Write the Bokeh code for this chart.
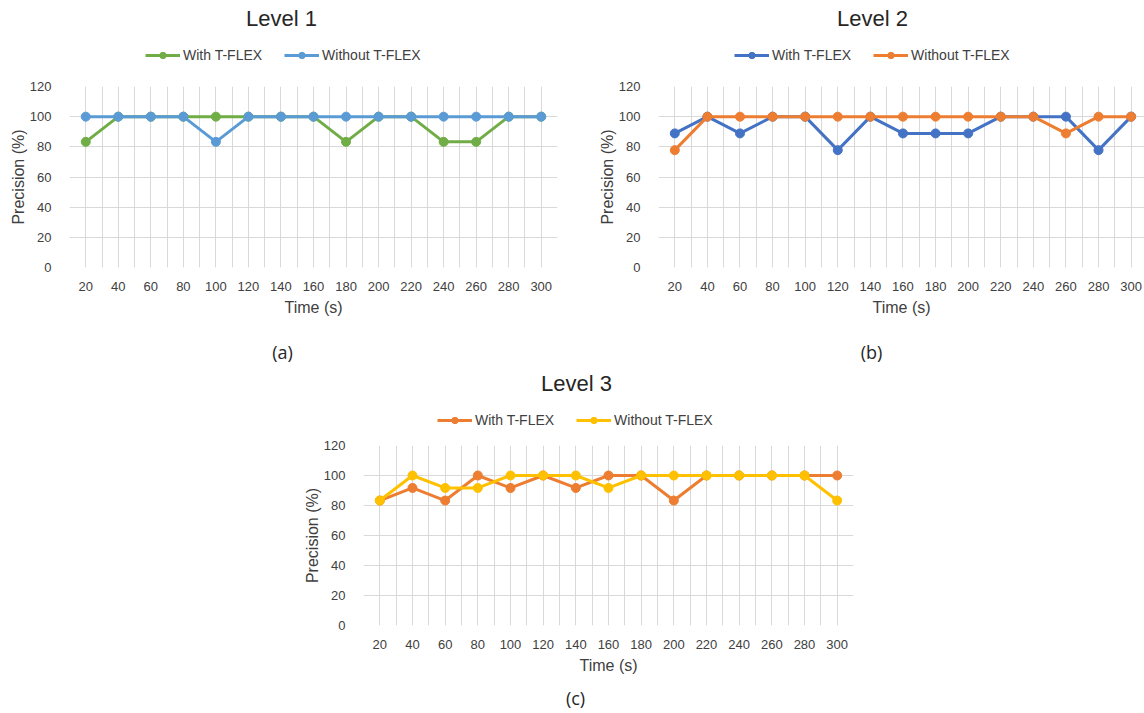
from bokeh.plotting import figure
from bokeh.models import Range1d, FixedTicker, Legend, LegendItem, Spacer, Label
from bokeh.layouts import row, column
from bokeh.embed import file_html
from bokeh.resources import INLINE

# ---------------- data ----------------
times = [20, 40, 60, 80, 100, 120, 140, 160, 180, 200, 220, 240, 260, 280, 300]
precision_ticks = [0, 20, 40, 60, 80, 100, 120]
series_labels = ["With T-FLEX", "Without T-FLEX"]

level1_with = [83.3, 100, 100, 100, 100, 100, 100, 100, 83.3, 100, 100, 83.3, 83.3, 100, 100]
level1_without = [100, 100, 100, 100, 83.3, 100, 100, 100, 100, 100, 100, 100, 100, 100, 100]

level2_with = [88.9, 100, 88.9, 100, 100, 77.8, 100, 88.9, 88.9, 88.9, 100, 100, 100, 77.8, 100]
level2_without = [77.8, 100, 100, 100, 100, 100, 100, 100, 100, 100, 100, 100, 88.9, 100, 100]

level3_with = [83.3, 91.7, 83.3, 100, 91.7, 100, 91.7, 100, 100, 83.3, 100, 100, 100, 100, 100]
level3_without = [83.3, 100, 91.7, 91.7, 100, 100, 100, 91.7, 100, 100, 100, 100, 100, 100, 83.3]

FONT = "Liberation Sans"
GRID = "#D9D9D9"
TXT = "#404040"
NAN = float("nan")

step = times[1] - times[0]
x_start = times[0] - step / 2
boundaries = [t - step / 2 for t in times] + [times[-1] + step / 2]
vgrid = sorted(times + boundaries)


def blank(width, height):
    p = figure(width=width, height=height, x_range=Range1d(0, 1), y_range=Range1d(0, 1),
               output_backend="svg", toolbar_location=None,
               x_axis_location=None, y_axis_location=None, min_border=0)
    p.grid.visible = False
    p.outline_line_color = None
    p.background_fill_color = "white"
    p.border_fill_color = "white"
    return p


def text_label(p, text, x, y, size, font=FONT, color="#262626"):
    p.add_layout(Label(x=x, y=y, x_units="screen", y_units="screen", text=text,
                       text_align="center", text_baseline="middle",
                       text_font=font, text_font_size=size, text_color=color))


def header(title_text, c_with, c_without, width, height, title_x, legend_x):
    h = blank(width, height)
    # legend-only renderers (a single NaN point: nothing is drawn in the plot area)
    r1 = h.line([NAN], [NAN], line_color=c_with, line_width=3)
    m1 = h.scatter([NAN], [NAN], size=7, fill_color=c_with, line_color=c_with)
    r2 = h.line([NAN], [NAN], line_color=c_without, line_width=3)
    m2 = h.scatter([NAN], [NAN], size=7, fill_color=c_without, line_color=c_without)
    legend = Legend(items=[LegendItem(label=series_labels[0], renderers=[r1, m1]),
                           LegendItem(label=series_labels[1], renderers=[r2, m2])],
                    orientation="horizontal", location=(legend_x, height - 63),
                    border_line_color=None, background_fill_alpha=0,
                    label_text_font=FONT, label_text_font_size="14px",
                    label_text_color=TXT, glyph_width=35, glyph_height=16,
                    label_height=16, label_standoff=3, spacing=22, padding=0, margin=0)
    h.add_layout(legend, "center")
    text_label(h, title_text, title_x, height - 18, "22px")
    return h


def build(y_with, y_without, c_with, c_without,
          fig_w, fig_h, b_left, b_right, b_top, b_bottom, x_end):
    p = figure(width=fig_w, height=fig_h,
               x_range=Range1d(x_start, x_end), y_range=Range1d(0, 120),
               output_backend="svg", toolbar_location=None,
               min_border_left=b_left, min_border_right=b_right,
               min_border_top=b_top, min_border_bottom=b_bottom)
    p.outline_line_color = None
    p.background_fill_color = "white"
    p.border_fill_color = "white"

    p.xgrid.ticker = FixedTicker(ticks=vgrid)
    p.ygrid.ticker = FixedTicker(ticks=precision_ticks)
    for g in (p.xgrid, p.ygrid):
        g.grid_line_color = GRID
        g.grid_line_width = 1

    for ax in (p.xaxis, p.yaxis):
        ax.axis_line_color = None
        ax.major_tick_line_color = None
        ax.minor_tick_line_color = None
        ax.major_label_text_font = FONT
        ax.major_label_text_font_size = "13px"
        ax.major_label_text_color = TXT
        ax.axis_label_text_font = FONT
        ax.axis_label_text_font_size = "16px"
        ax.axis_label_text_font_style = "normal"
        ax.axis_label_text_color = TXT
    p.xaxis.ticker = FixedTicker(ticks=times)
    p.yaxis.ticker = FixedTicker(ticks=precision_ticks)
    p.xaxis.major_label_standoff = 8
    p.yaxis.major_label_standoff = 12
    p.xaxis.axis_label = "Time (s)"
    p.yaxis.axis_label = "Precision (%)"
    p.xaxis.axis_label_standoff = 5
    p.yaxis.axis_label_standoff = 0

    p.line(times, y_with, line_color=c_with, line_width=3, line_join="round")
    p.scatter(times, y_with, size=9, fill_color=c_with, line_color=c_with)
    p.line(times, y_without, line_color=c_without, line_width=3, line_join="round")
    p.scatter(times, y_without, size=9, fill_color=c_without, line_color=c_without)
    return p


# headers (title + legend)
hA = header("Level 1", "#70AD47", "#5B9BD5", 575, 78, 281, 145)
hB = header("Level 2", "#4472C4", "#ED7D31", 569, 78, 297, 159)
hC = header("Level 3", "#ED7D31", "#FFC000", 583, 72, 286, 147)

pa = build(level1_with, level1_without, "#70AD47", "#5B9BD5",
           575, 257, 69, 18, 8, 68, 310)
pb = build(level2_with, level2_without, "#4472C4", "#ED7D31",
           569, 257, 83, 0, 8, 68, 308.2)
pc = build(level3_with, level3_without, "#ED7D31", "#FFC000",
           583, 246, 73, 20, 8, 58, 310)

capAB = blank(1144, 30)
text_label(capAB, "(a)", 282, 14, "18px", font="Open Sans")
text_label(capAB, "(b)", 871, 14, "18px", font="Open Sans")
capC = blank(1144, 30)
text_label(capC, "(c)", 575, 16, "18px", font="Open Sans")

layout = column(
    row(hA, hB),
    row(pa, pb),
    capAB,
    row(Spacer(width=290, height=72), hC),
    row(Spacer(width=290, height=246), pc),
    capC,
)
open("out.html", "w").write(file_html(layout, INLINE))
